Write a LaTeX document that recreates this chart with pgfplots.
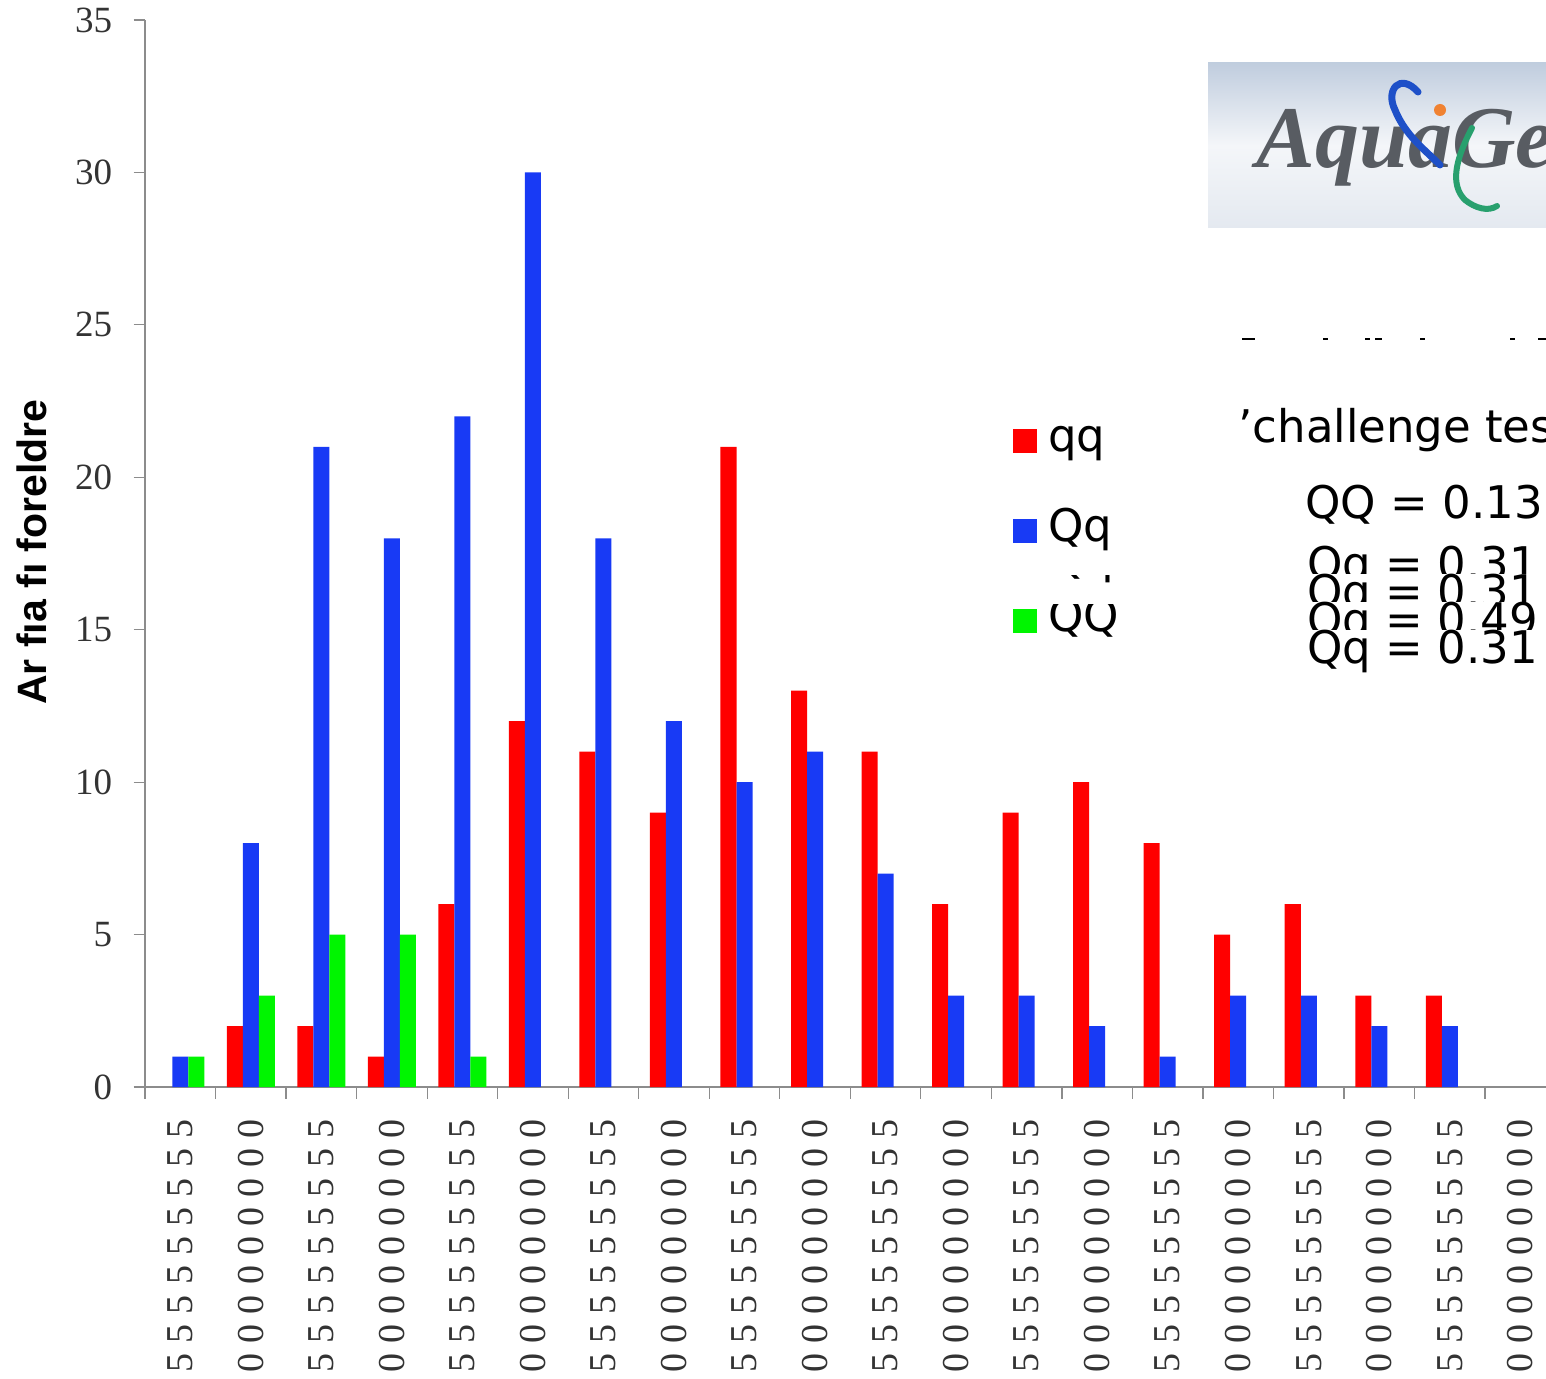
\documentclass[border=0pt]{standalone}
\usepackage{pgfplots}
\pgfplotsset{compat=1.18}
\usepackage{fontspec}
\usepackage{graphicx}
\setmainfont{Liberation Serif}
\newfontfamily\sans{Liberation Sans}
\newfontfamily\vsans{DejaVu Sans}

\definecolor{qqred}{RGB}{255,0,0}
\definecolor{qqblue}{RGB}{24,58,245}
\definecolor{qqgreen}{RGB}{0,245,0}

% garbled stacked tick labels
\newcommand\Fv{\rotatebox{90}{5}\\\rotatebox{90}{5}\\\rotatebox{90}{5}\\\rotatebox{90}{5}\\\rotatebox{90}{5}\\\rotatebox{90}{5}\\\rotatebox{90}{5}\\\rotatebox{90}{5}\\\rotatebox{90}{5}}
\newcommand\Zr{\rotatebox{90}{0}\\\rotatebox{90}{0}\\\rotatebox{90}{0}\\\rotatebox{90}{0}\\\rotatebox{90}{0}\\\rotatebox{90}{0}\\\rotatebox{90}{0}\\\rotatebox{90}{0}\\\rotatebox{90}{0}}

\begin{document}
\begin{tikzpicture}
\begin{axis}[
    at={(72.5pt,-543.5pt)}, anchor=south west,
    scale only axis, width=705.3pt, height=533.5pt,
    xmin=0, xmax=20, ymin=0, ymax=35,
    axis lines*=left,
    axis line style={black!45, line width=0.6pt},
    tick style={black!45, line width=0.6pt},
    tick align=outside, major tick length=5.75pt,
    xtick={0,...,20}, xticklabels={},
    extra x ticks={0.5,1.5,...,19.5},
    extra x tick labels={\Fv,\Zr,\Fv,\Zr,\Fv,\Zr,\Fv,\Zr,\Fv,\Zr,\Fv,\Zr,\Fv,\Zr,\Fv,\Zr,\Fv,\Zr,\Fv,\Zr},
    extra x tick style={major tick length=0pt,
        xticklabel style={anchor=north, align=center, inner sep=0pt, yshift=-16pt,
            font=\fontsize{19pt}{14.65pt}\selectfont, text=black!80}},
    ytick={0,5,...,35},
    yticklabel style={anchor=east, inner sep=0pt, xshift=-10.5pt,
        font=\fontsize{18.5pt}{22pt}\selectfont, text=black!80},
    /pgf/number format/assume math mode=true,
    ybar, bar width=0.227,
    legend style={at={(0.6154,0.6279)}, anchor=north west, draw=none, fill=none,
        inner sep=0pt, outer sep=0pt, row sep=22pt,
        font=\vsans\fontsize{22.5pt}{27pt}\selectfont,
        nodes={inner sep=0pt, text height=17pt, text depth=6pt},
        /tikz/every odd column/.append style={column sep=5.5pt}},
    legend cell align=left,
    legend image code/.code={\fill[#1] (0pt,-6.5pt) rectangle (12pt,5.5pt);},
    clip=false,
]
\addplot[fill=qqred, draw=none, bar shift=-0.227] coordinates {
    (1.5,2)(2.5,2)(3.5,1)(4.5,6)(5.5,12)(6.5,11)(7.5,9)(8.5,21)(9.5,13)
    (10.5,11)(11.5,6)(12.5,9)(13.5,10)(14.5,8)(15.5,5)(16.5,6)(17.5,3)(18.5,3)
};
\addlegendentry{qq}
\addplot[fill=qqblue, draw=none, bar shift=0] coordinates {
    (0.5,1)(1.5,8)(2.5,21)(3.5,18)(4.5,22)(5.5,30)(6.5,18)(7.5,12)(8.5,10)(9.5,11)
    (10.5,7)(11.5,3)(12.5,3)(13.5,2)(14.5,1)(15.5,3)(16.5,3)(17.5,2)(18.5,2)
};
\addlegendentry{Qq}
\addplot[fill=qqgreen, draw=none, bar shift=0.227] coordinates {
    (0.5,1)(1.5,3)(2.5,5)(3.5,5)(4.5,1)
};
\addlegendentry{QQ}
\end{axis}

\begin{scope}[x=0.5pt, y=-0.5pt]
% y label
\node[rotate=90, inner sep=0pt, font=\sans\bfseries\fontsize{20.5pt}{24pt}\selectfont] at (32,552) {Ar fıa fı foreldre};

% leftover fragments near the legend
\begin{scope}
\clip (1055,575) rectangle (1115,586);
\node[anchor=base west, inner sep=0pt, font=\vsans\fontsize{22.5pt}{27pt}\selectfont] at (1050,573) {Qq};
\end{scope}
\fill[white] (1045,590) rectangle (1125,604);

% logo
\shade[top color={rgb,255:red,192;green,205;blue,222}, bottom color={rgb,255:red,228;green,233;blue,240},
       middle color={rgb,255:red,244;green,246;blue,249}] (1208,63) rectangle (1560,228);
\node[anchor=base west, inner sep=0pt, font=\fontsize{44pt}{48pt}\selectfont\bfseries\itshape,
      text={rgb,255:red,88;green,92;blue,98}] at (1256,168) {AquaGe};
\draw[line width=3.5pt, color={rgb,255:red,30;green,80;blue,200}, line cap=round]
    (1418,92) .. controls (1400,72) and (1385,90) .. (1395,110) .. controls (1405,135) and (1425,150) .. (1440,165);
\draw[line width=3pt, color={rgb,255:red,40;green,160;blue,110}, line cap=round]
    (1472,128) .. controls (1455,160) and (1450,185) .. (1465,200) .. controls (1475,208) and (1488,212) .. (1497,206);
\fill[color={rgb,255:red,240;green,130;blue,50}] (1440,110) circle[radius=3pt];

% clipped dash fragments
\foreach \a/\b in {1242/1255,1323/1328,1365/1370,1375/1382,1420/1425,1510/1515,1538/1546}
    \draw[line width=1pt] (\a,339) -- (\b,339);

% text block on the right
\tikzset{rt/.style={anchor=base west, inner sep=0pt, font=\vsans\fontsize{22.5pt}{27pt}\selectfont}}
\node[rt] at (1238,443) {’challenge test};
\node[rt] at (1305,518) {QQ = 0.13};
\node[rt] at (1307,579) {Qq = 0.31};
\node[rt, fill=white, text height=16.5pt, text depth=6pt] at (1307,607) {Qq = 0.31};
\node[rt, fill=white, text height=16.5pt, text depth=6pt] at (1307,635) {Qq = 0.49};
\node[rt, fill=white, text height=16.5pt, text depth=6pt] at (1307,663) {Qq = 0.31};

\pgfresetboundingbox
\path[use as bounding box] (0,0) rectangle (1546,1379);
\end{scope}
\end{tikzpicture}
\end{document}
